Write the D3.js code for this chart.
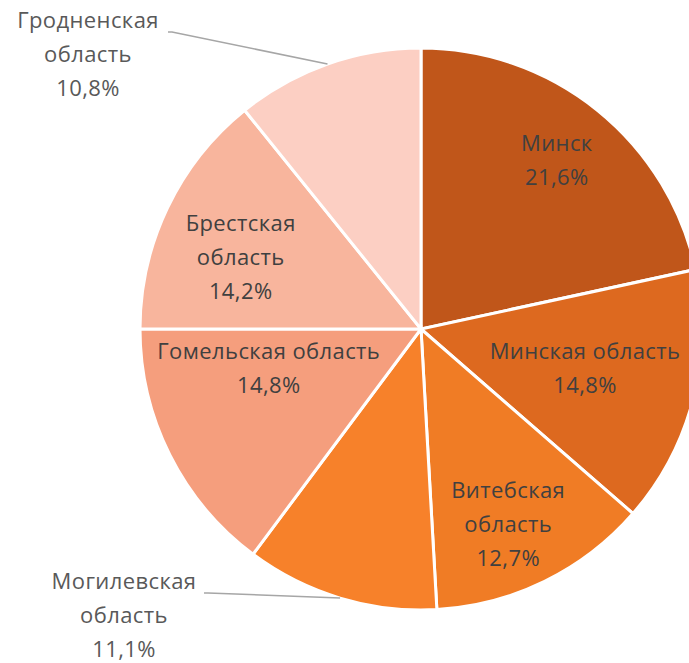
<!DOCTYPE html>
<html>
<head>
<meta charset="utf-8">
<script src="https://cdn.jsdelivr.net/npm/d3@7"></script>
<style>
  body { margin: 0; background: #fff; }
  svg text { font-family: "Open Sans", "Noto Sans", sans-serif; letter-spacing: 0.4px; }
</style>
</head>
<body>
<div id="chart"></div>
<script>
// Regions of Belarus, share in %
var regions = ["Минск", "Минская область", "Витебская область", "Могилевская область",
               "Гомельская область", "Брестская область", "Гродненская область"];
var shares = [21.6, 14.8, 12.7, 11.1, 14.8, 14.2, 10.8];
var labelLines = [
  ["Минск"], ["Минская область"], ["Витебская", "область"], ["Могилевская", "область"],
  ["Гомельская область"], ["Брестская", "область"], ["Гродненская", "область"]
];
var colors = ["#C0561A", "#DD691F", "#F07C25", "#F7812A", "#F59E7D", "#F8B59D", "#FCCFC3"];

var width = 689, height = 663;
var cx = 421, cy = 329, radius = 281;

var svg = d3.select("#chart")
  .append("svg")
  .attr("width", width)
  .attr("height", height);

var g = svg.append("g")
  .attr("transform", "translate(" + cx + "," + cy + ")");

var data = regions.map(function(r, i) {
  return {name: r, value: shares[i], lines: labelLines[i], color: colors[i]};
});

var pie = d3.pie()
  .value(function(d) { return d.value; })
  .sort(null);

var arc = d3.arc()
  .innerRadius(0)
  .outerRadius(radius);

var arcs = pie(data);

g.selectAll("path")
  .data(arcs)
  .enter()
  .append("path")
  .attr("d", arc)
  .attr("fill", function(d) { return d.data.color; })
  .attr("stroke", "#fff")
  .attr("stroke-width", 3);

// label placement: radius factor + angle nudge (deg), or outside with leader
var place = [
  {r: 0.77, da: 0},
  {r: 0.60, da: -1},
  {r: 0.76, da: 2},
  {outside: true, tx: -297, ty: 252},
  {r: 0.56, da: 12},
  {r: 0.69, da: -4},
  {outside: true, tx: -333, ty: -309}
];

var fmt = function(v) { return d3.format(".1f")(v).replace(".", ",") + "%"; };
var lh = 34;

arcs.forEach(function(d, i) {
  var p = place[i];
  var mid = (d.startAngle + d.endAngle) / 2;
  var lines = d.data.lines.concat([fmt(d.data.value)]);
  var x, y, fill;
  if (p.outside) {
    var ex = radius * Math.sin(mid), ey = -radius * Math.cos(mid);
    var hx = p.tx + 84, hy = p.ty + 12;
    g.append("path")
      .attr("d", "M" + ex + "," + ey + "L" + hx + "," + hy + "L" + (hx - 4) + "," + hy)
      .attr("fill", "none")
      .attr("stroke", "#A6A6A6")
      .attr("stroke-width", 1.5);
    x = p.tx; y = p.ty + lh;
    fill = "#595959";
  } else {
    var a = mid + p.da * Math.PI / 180;
    x = p.r * radius * Math.sin(a);
    y = -p.r * radius * Math.cos(a);
    fill = "#404040";
  }
  var t = g.append("text")
    .attr("text-anchor", "middle")
    .attr("font-size", 22)
    .attr("fill", fill);
  var y0 = y - (lines.length - 1) * lh / 2;
  lines.forEach(function(l, k) {
    t.append("tspan")
      .attr("x", x)
      .attr("y", y0 + k * lh)
      .attr("dy", "0.35em")
      .text(l);
  });
});
</script>
</body>
</html>
